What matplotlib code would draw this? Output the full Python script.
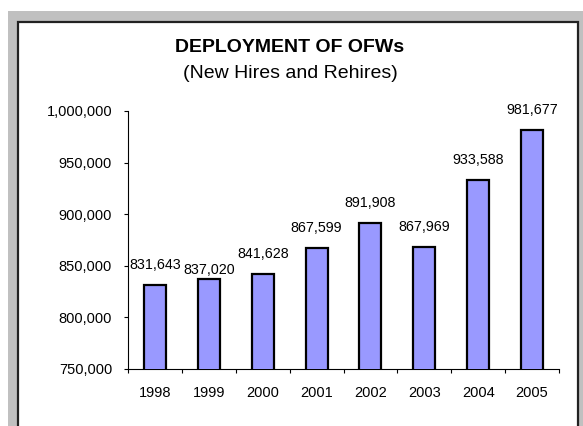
import matplotlib.pyplot as plt
from matplotlib.patches import Rectangle
from matplotlib.ticker import FuncFormatter

plt.rcParams['font.family'] = ['Liberation Sans', 'DejaVu Sans']

# du lieu doc tu bieu do
years = ['1998', '1999', '2000', '2001', '2002', '2003', '2004', '2005']
deployed = [831643, 837020, 841628, 867599, 891908, 867969, 933588, 981677]

W, H = 583, 426
fig = plt.figure(figsize=(W / 100, H / 100), dpi=100, facecolor='white')

# khung xam ben ngoai va khung trang vien den
fig.patches.append(Rectangle((8 / W, 0), 1, 1 - 11 / H, transform=fig.transFigure,
                             facecolor='#c0c0c0', edgecolor='none', zorder=-2))
fig.patches.append(Rectangle((18 / W, -0.05), (578 - 18) / W, (H - 22) / H + 0.05,
                             transform=fig.transFigure, facecolor='white',
                             edgecolor='#222222', linewidth=1.6, zorder=-1))

ax = fig.add_axes([128 / W, 1 - 369 / H, (559 - 128) / W, (369 - 111) / H])
ax.set_facecolor('none')
ax.set_zorder(2)

x = list(range(len(years)))
ax.bar(x, deployed, width=0.41, color='#9999ff', edgecolor='black', linewidth=1.6,
       bottom=0, zorder=3)

ax.set_ylim(750000, 1000000)
ax.set_xlim(-0.5, len(years) - 0.5)
ax.set_yticks(range(750000, 1000001, 50000))
ax.yaxis.set_major_formatter(FuncFormatter(lambda v, p: f'{int(v):,}'))

# nhan nam nam giua, vach chia o ranh gioi
ax.set_xticks(x)
ax.set_xticklabels(years)
ax.set_xticks([i - 0.5 for i in range(len(years) + 1)], minor=True)
ax.tick_params(axis='x', which='major', length=0, pad=12, labelsize=10.5)
ax.tick_params(axis='x', which='minor', length=3, width=0.8, direction='out')
ax.tick_params(axis='y', length=3, width=0.8, direction='out', pad=8.5, labelsize=10.5)

for s in ['top', 'right']:
    ax.spines[s].set_visible(False)
for s in ['left', 'bottom']:
    ax.spines[s].set_linewidth(0.8)

# nhan gia tri tren moi cot
for i, v in enumerate(deployed):
    off = 13 if i != 1 else 2
    ax.annotate(f'{v:,}', (i, v), xytext=(0, off), textcoords='offset pixels',
                ha='center', va='bottom', fontsize=10.3, zorder=4, annotation_clip=False)

fig.text(290 / W, 1 - 48 / H, 'DEPLOYMENT OF OFWs', ha='center', va='center',
         fontsize=14, fontweight='bold', zorder=5)
fig.text(290 / W, 1 - 73 / H, '(New Hires and Rehires)', ha='center', va='center',
         fontsize=14, zorder=5)

fig.savefig('out.png', dpi=100)
